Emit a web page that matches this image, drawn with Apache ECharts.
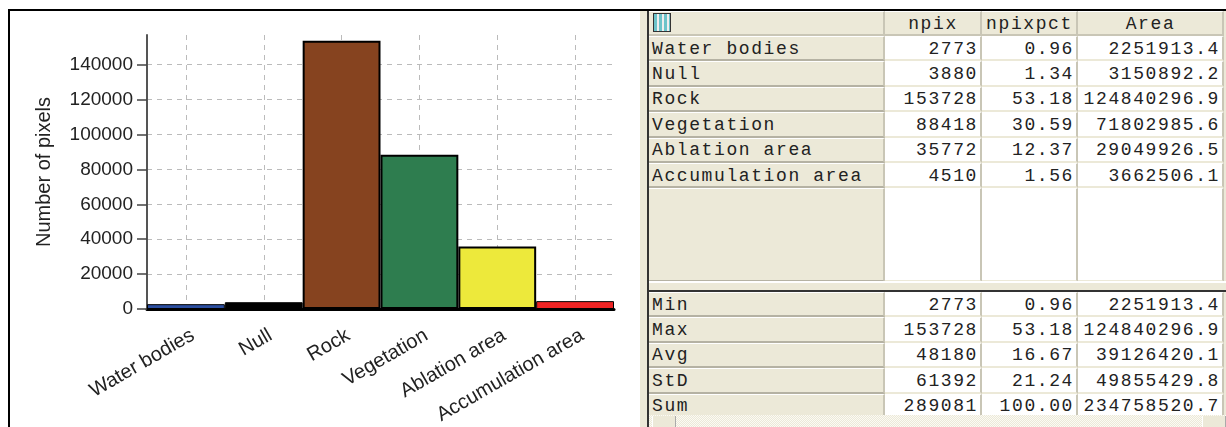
<!DOCTYPE html>
<html>
<head>
<meta charset="utf-8">
<script src="https://cdn.jsdelivr.net/npm/echarts@6/dist/echarts.min.js"></script>
<style>
html, body { margin: 0; padding: 0; background: #fff; }
#wrap { position: relative; width: 1226px; height: 427px; overflow: hidden; }
#frame { position: absolute; left: 8px; top: 9px; width: 1218px; height: 418px; border-left: 2px solid #000; border-top: 2px solid #000; box-sizing: border-box; }
#chart { position: absolute; left: 0; top: 0; width: 640px; height: 427px; }
#gutter { position: absolute; left: 640px; top: 11px; width: 7px; height: 416px; background: #ece9d8; border-right: 2px solid #333; }
#grid { position: absolute; left: 649px; top: 11px; width: 577px; height: 404px; overflow: hidden; background: #ece9d8; }
table { border-collapse: separate; border-spacing: 0; table-layout: fixed; width: 575px; position: absolute; left: 0; }
td { box-sizing: border-box; height: 25.4px; padding: 1px 2px 0 3px; font-family: "Liberation Mono", monospace; font-size: 18px; letter-spacing: 1.6px; color: #222; white-space: pre; overflow: hidden; border-right: 2px solid #c9c6b6; border-bottom: 2px solid #ece9d8; border-top: 1px solid #fff; background: #fff; text-align: right; }
td.lab { background: #ece9d8; text-align: left; border-bottom: 2px solid #b5b2a3; }
td.head { background: #ece9d8; text-align: center; border-bottom: 2px solid #c9c6b6; height: 25px; }
tr.blank td { height: 94px; }
#split { position: absolute; left: 0; top: 270px; width: 577px; height: 11px; background: #ece9d8; border-top: 2px solid #fff; border-bottom: 2px solid #333; box-sizing: border-box; }
#icon { position: absolute; left: 4px; top: 2px; width: 18px; height: 19px; box-sizing: border-box; border: 1px solid #333; background: repeating-linear-gradient(90deg, #6cc3c9 0, #6cc3c9 3px, #eee 3px, #eee 5px); }
#scroll { position: absolute; left: 649px; top: 415px; width: 577px; height: 12px; background: repeating-conic-gradient(#ece9d8 0 25%, #fbfaf4 0 50%) 0 0 / 2px 2px; }
#scroll div { position: absolute; top: 1px; width: 22px; height: 11px; background: #ece9d8; border-left: 1px solid #fff; border-right: 1px solid #aaa; }
</style>
</head>
<body>
<div id="wrap">
	<div id="frame"></div>
	<div id="chart"></div>
	<div id="gutter"></div>
	<div id="grid">
		<table id="topTable" style="top:0"></table>
		<div id="icon"></div>
		<div id="split"></div>
		<table id="botTable" style="top:281px"></table>
	</div>
	<div id="scroll"><div style="left:3px"></div><div style="right:0"></div></div>
</div>
<script>
var categories = ['Water bodies', 'Null', 'Rock', 'Vegetation', 'Ablation area', 'Accumulation area'];
var npix = [2773, 3880, 153728, 88418, 35772, 4510];
var npixpct = ['0.96', '1.34', '53.18', '30.59', '12.37', '1.56'];
var area = ['2251913.4', '3150892.2', '124840296.9', '71802985.6', '29049926.5', '3662506.1'];
var barColors = ['#2b4ea0', '#000000', '#86431f', '#2e7d4f', '#ede93b', '#ee2424'];

var statNames = ['Min', 'Max', 'Avg', 'StD', 'Sum'];
var statNpix = [2773, 153728, 48180, 61392, 289081];
var statPct = ['0.96', '53.18', '16.67', '21.24', '100.00'];
var statArea = ['2251913.4', '124840296.9', '39126420.1', '49855429.8', '234758520.7'];

var columns = ['npix', 'npixpct', 'Area'];

// 柱状图
var barData = [];
npix.forEach(function(a, b) {
	barData.push({
		value: a,
		itemStyle: { color: barColors[b], borderWidth: a < 5000 ? 1 : 2 }
	});
});

var xx = echarts.init(document.getElementById('chart'));
xx.setOption({
	animation: false,
	grid: { left: 147, top: 35, right: 26, bottom: 118 },
	xAxis: {
		type: 'category',
		data: categories,
		axisLine: { lineStyle: { color: '#000', width: 3 } },
		axisTick: { alignWithLabel: true, length: 10, lineStyle: { color: '#444', width: 1.5 } },
		axisLabel: { interval: 0, rotate: 30, margin: 29, padding: [0, -8, 0, 0], fontFamily: 'Liberation Sans', fontSize: 20, color: '#222' },
		splitLine: { show: true, alignWithLabel: true, lineStyle: { type: [5, 5], color: '#bbb', width: 1 } }
	},
	yAxis: {
		type: 'value',
		min: 0,
		max: 157000,
		interval: 20000,
		name: 'Number of pixels',
		nameLocation: 'middle',
		nameGap: 93,
		nameTextStyle: { fontFamily: 'Liberation Sans', fontSize: 20, color: '#222' },
		axisLine: { show: true, lineStyle: { color: '#555', width: 2 } },
		axisTick: { show: true, length: 10, lineStyle: { color: '#444', width: 1.5 } },
		axisLabel: {
			margin: 14,
			showMaxLabel: false,
			formatter: function(v) { return String(v); },
			fontFamily: 'Liberation Sans',
			fontSize: 19,
			color: '#222'
		},
		splitLine: { show: true, showMaxLine: false, lineStyle: { type: [5, 5], color: '#bbb', width: 1 } }
	},
	series: [{
		type: 'bar',
		data: barData,
		barCategoryGap: '0%',
		itemStyle: { borderColor: '#000', borderWidth: 2 }
	}]
});

// 右边的表格
var colgroup = '<colgroup><col style="width:236px"><col style="width:97px"><col style="width:96px"><col style="width:146px"></colgroup>';
var topHtml = colgroup + '<tr><td class="head"></td>';
columns.forEach(function(a) {
	topHtml += '<td class="head">' + a + '</td>';
});
topHtml += '</tr>';
categories.forEach(function(a, b) {
	topHtml += '<tr><td class="lab">' + a + '</td><td>' + npix[b] + '</td><td>' + npixpct[b] + '</td><td>' + area[b] + '</td></tr>';
});
topHtml += '<tr class="blank"><td class="lab"></td><td></td><td></td><td></td></tr>';
document.getElementById('topTable').innerHTML = topHtml;

var botHtml = colgroup;
statNames.forEach(function(a, b) {
	botHtml += '<tr><td class="lab">' + a + '</td><td>' + statNpix[b] + '</td><td>' + statPct[b] + '</td><td>' + statArea[b] + '</td></tr>';
});
document.getElementById('botTable').innerHTML = botHtml;
</script>
</body>
</html>
